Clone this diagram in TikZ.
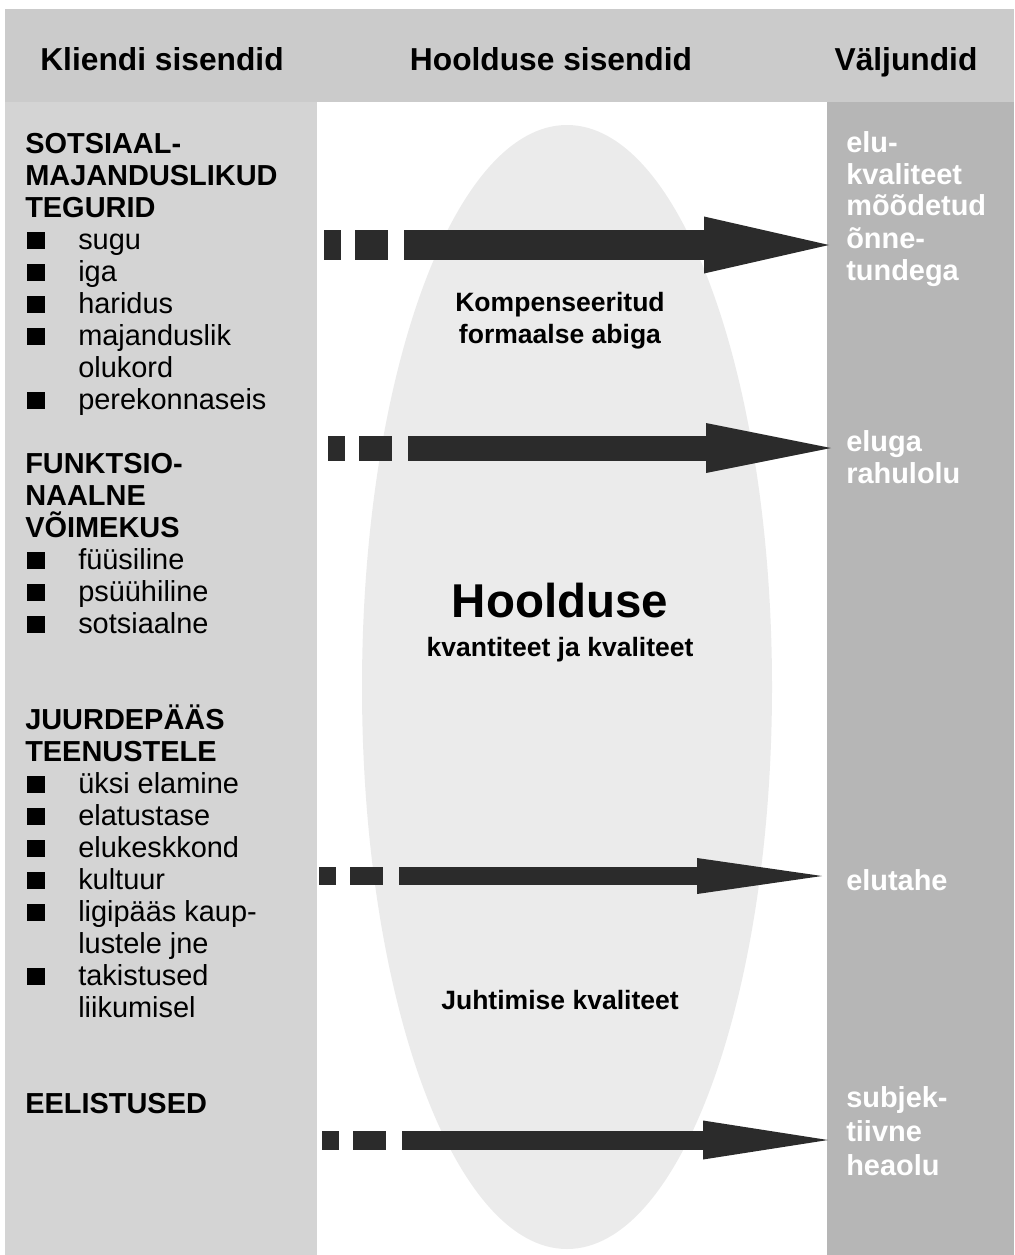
\documentclass[tikz,border=0pt]{standalone}
\usepackage{fontspec}
\setmainfont{Liberation Sans}
\usetikzlibrary{arrows.meta,shapes.geometric}

\definecolor{headgray}{HTML}{CBCBCB}
\definecolor{leftgray}{HTML}{D4D4D4}
\definecolor{rightgray}{HTML}{B6B6B6}
\definecolor{ovalgray}{HTML}{EBEBEB}
\definecolor{arrowdark}{HTML}{2B2B2B}

% square bullet and the matching indent
\newcommand{\bul}{\makebox[39.75pt][l]{\hspace*{1.5pt}\rule{13.5pt}{12.5pt}}}
\newcommand{\ind}{\hspace*{39.75pt}}

\begin{document}
\begin{tikzpicture}[
    x=0.75pt,
    y=-0.75pt,
    heading/.style={
      font=\fontsize{23.8}{28}\selectfont\bfseries,
      inner sep=0pt,
      anchor=base
    },
    factors/.style={
      font=\fontsize{21.7}{24}\selectfont,
      align=left,
      inner sep=0pt,
      anchor=base west
    },
    outcome/.style={
      font=\fontsize{21.7}{24}\selectfont\bfseries,
      text=white,
      align=left,
      inner sep=0pt,
      anchor=base west
    },
    care/.style={
      font=\fontsize{19.9}{24}\selectfont\bfseries,
      align=center,
      inner sep=0pt,
      anchor=base
    },
    flowarrow/.style 2 args={
      draw=arrowdark,
      line width=#1,
      line cap=butt,
      dash pattern=on 12.75pt off 10.5pt on 24.75pt off 12pt on 2000pt,
      -{Triangle[length=93.75pt,width=#2,line width=0pt]}
    }
  ]
    \useasboundingbox (0,0) rectangle (1014,1255);

    % columns
    \fill[headgray] (5,9) rectangle (1014,102);
    \fill[leftgray] (5,102) rectangle (317,1255);
    \fill[rightgray] (827,102) rectangle (1014,1255);
    \node[ellipse,fill=ovalgray,inner sep=0pt,
      minimum width=307.5pt,minimum height=843pt] (oval) at (567,687) {};

    \node[heading] (hclient) at (162,71) {Kliendi sisendid};
    \node[heading] (hcare) at (551,71) {Hoolduse sisendid};
    \node[heading] (hout) at (906,71) {Väljundid};

    % client inputs (placed at the baseline of the last line)
    \node[factors] (socio) at (25,409) {\textbf{SOTSIAAL-}\\\textbf{MAJANDUSLIKUD}\\\textbf{TEGURID}\\
      \bul sugu\\\bul iga\\\bul haridus\\\bul majanduslik\\\ind olukord\\\bul perekonnaseis};
    \node[factors] (func) at (25,633) {\textbf{FUNKTSIO-}\\\textbf{NAALNE}\\\textbf{VÕIMEKUS}\\
      \bul füüsiline\\\bul psüühiline\\\bul sotsiaalne};
    \node[factors] (access) at (25,1017) {\textbf{JUURDEPÄÄS}\\\textbf{TEENUSTELE}\\
      \bul üksi elamine\\\bul elatustase\\\bul elukeskkond\\\bul kultuur\\
      \bul ligipääs kaup-\\\ind lustele jne\\\bul takistused\\\ind liikumisel};
    \node[factors] (pref) at (25,1113) {\textbf{EELISTUSED}};

    % care inputs
    \node[care] (comp) at (560,343) {Kompenseeritud\\formaalse abiga};
    \node[care,font=\fontsize{35.6}{40}\selectfont\bfseries] (care) at (560,617) {Hoolduse};
    \node[care] (qual) at (560,656) {kvantiteet ja kvaliteet};
    \node[care] (lead) at (560,1009) {Juhtimise kvaliteet};

    % outputs
    \node[outcome] (o1) at (846,280) {elu-\\kvaliteet\\mõõdetud\\õnne-\\tundega};
    \node[outcome] (o2) at (846,483) {eluga\\rahulolu};
    \node[outcome] (o3) at (846,890) {elutahe};
    \node[outcome,font=\fontsize{21.7}{25.5}\selectfont\bfseries] (o4) at (846,1175) {subjek-\\tiivne\\heaolu};

    \coordinate (t1) at (324,245);
    \coordinate (t2) at (328,448);
    \coordinate (t3) at (319,876);
    \coordinate (t4) at (322,1140);
    \coordinate (h1) at (829,245);
    \coordinate (h2) at (831,448);
    \coordinate (h3) at (822,876);
    \coordinate (h4) at (828,1140);

    \draw[flowarrow={21.75pt}{42.75pt}] (t1) -- (h1);
    \draw[flowarrow={18.75pt}{37.5pt}] (t2) -- (h2);
    \draw[flowarrow={13.5pt}{27pt}] (t3) -- (h3);
    \draw[flowarrow={14.25pt}{29.25pt}] (t4) -- (h4);
  \end{tikzpicture}
\end{document}
